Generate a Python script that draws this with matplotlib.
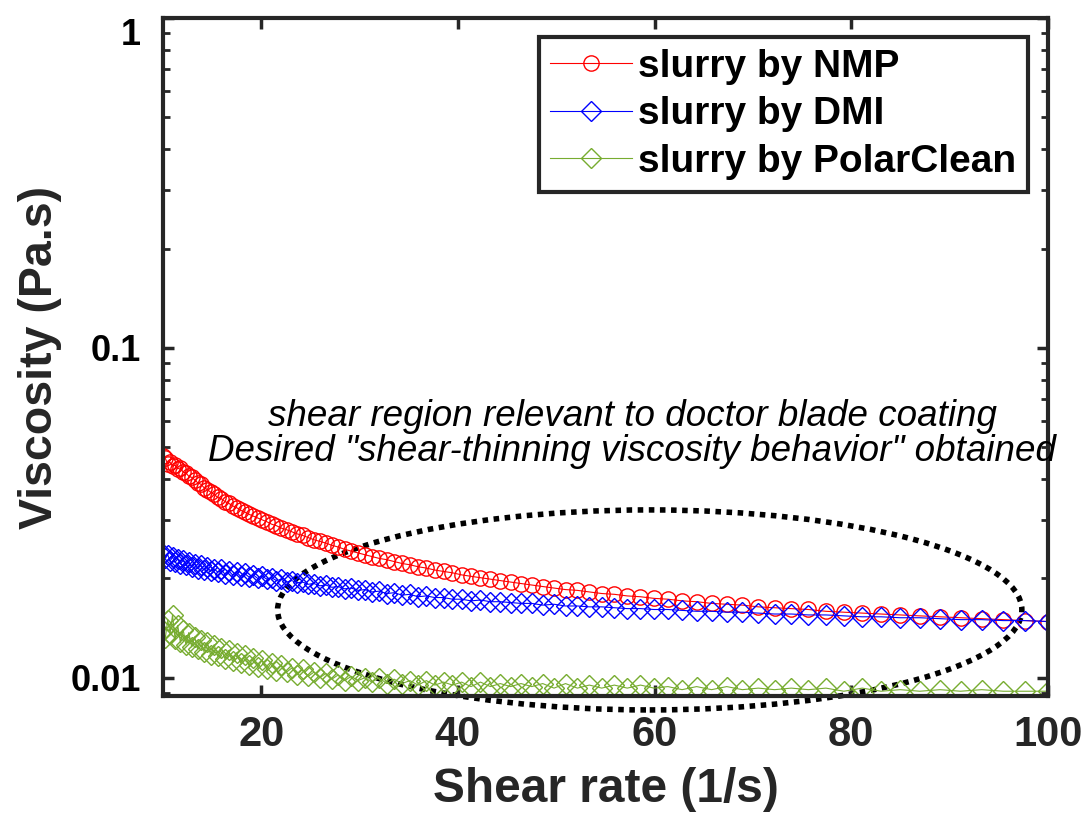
import numpy as np
import matplotlib
matplotlib.use('Agg')
import matplotlib.pyplot as plt
from matplotlib.patches import Ellipse

plt.rcParams['font.family'] = ['Liberation Sans', 'DejaVu Sans']

# shear rate (1/s)
shear_rate = [10.00, 10.24, 10.48, 10.72, 10.97, 11.23, 11.50, 11.77, 12.05, 12.33,
              12.62, 12.92, 13.22, 13.53, 13.85, 14.17, 14.51, 14.85, 15.20, 15.56,
              15.92, 16.30, 16.68, 17.07, 17.48, 17.89, 18.31, 18.74, 19.18, 19.63,
              20.09, 20.57, 21.05, 21.54, 22.05, 22.57, 23.10, 23.64, 24.20, 24.77,
              25.35, 25.95, 26.56, 27.18, 27.82, 28.48, 29.15, 29.83, 30.53, 31.25,
              31.99, 32.74, 33.51, 34.30, 35.11, 35.94, 36.78, 37.65, 38.53, 39.44,
              40.37, 41.32, 42.29, 43.29, 44.30, 45.35, 46.41, 47.50, 48.62, 49.77,
              50.94, 52.14, 53.36, 54.62, 55.90, 57.22, 58.56, 59.94, 61.35, 62.79,
              64.27, 65.79, 67.33, 68.92, 70.54, 72.20, 73.90, 75.64, 77.42, 79.24,
              81.11, 83.02, 84.97, 86.97, 89.02, 91.11, 93.26, 95.45, 97.70, 100.00]

# viscosity (Pa.s)
visc_nmp = [0.0470, 0.0462, 0.0445, 0.0450, 0.0438, 0.0441, 0.0430, 0.0433, 0.0420, 0.0418,
            0.0408, 0.0405, 0.0398, 0.0390, 0.0386, 0.0377, 0.0372, 0.0365, 0.0360, 0.0352,
            0.0349, 0.0342, 0.0338, 0.0332, 0.0328, 0.0322, 0.0318, 0.0313, 0.0309, 0.0305,
            0.0301, 0.0297, 0.0292, 0.0289, 0.0284, 0.0281, 0.0277, 0.0273, 0.0270, 0.0266,
            0.0262, 0.0259, 0.0256, 0.0252, 0.0249, 0.0245, 0.0242, 0.0239, 0.0236, 0.0233,
            0.0230, 0.0228, 0.0225, 0.0222, 0.0220, 0.0217, 0.0215, 0.0212, 0.0210, 0.0208,
            0.0205, 0.0203, 0.0201, 0.0199, 0.0197, 0.0195, 0.0193, 0.0191, 0.0189, 0.0187,
            0.0185, 0.0184, 0.0182, 0.0180, 0.0179, 0.0177, 0.0176, 0.0174, 0.0173, 0.0171,
            0.0170, 0.0168, 0.0167, 0.0166, 0.0164, 0.0163, 0.0162, 0.0161, 0.0159, 0.0158,
            0.0157, 0.0156, 0.0155, 0.0154, 0.0153, 0.0152, 0.0151, 0.0150, 0.0149, 0.0148]

visc_dmi = [0.0238, 0.0230, 0.0236, 0.0226, 0.0232, 0.0224, 0.0229, 0.0221, 0.0227, 0.0219,
            0.0224, 0.0216, 0.0221, 0.0214, 0.0219, 0.0212, 0.0217, 0.0210, 0.0214, 0.0209,
            0.0213, 0.0206, 0.0211, 0.0205, 0.0209, 0.0203, 0.0207, 0.0202, 0.0205, 0.0200,
            0.0203, 0.0199, 0.0201, 0.0197, 0.0199, 0.0195, 0.0197, 0.0194, 0.0195, 0.0192,
            0.0193, 0.0190, 0.0191, 0.0188, 0.0189, 0.0186, 0.0187, 0.0184, 0.0185, 0.0182,
            0.0183, 0.0180, 0.0181, 0.0178, 0.0179, 0.0176, 0.0177, 0.0175, 0.0175, 0.0173,
            0.0173, 0.0171, 0.0172, 0.0170, 0.0170, 0.0169, 0.0168, 0.0168, 0.0166, 0.0167,
            0.0165, 0.0165, 0.0164, 0.0164, 0.0163, 0.0162, 0.0162, 0.0161, 0.0161, 0.0160,
            0.0159, 0.0159, 0.0158, 0.0158, 0.0157, 0.0156, 0.0156, 0.0155, 0.0155, 0.0154,
            0.0153, 0.0153, 0.0152, 0.0152, 0.0151, 0.0150, 0.0150, 0.0149, 0.0149, 0.0148]

visc_polarclean = [0.0140, 0.0132, 0.0150, 0.0136, 0.0155, 0.0131, 0.0144, 0.0128, 0.0140, 0.0126,
                   0.0137, 0.0124, 0.0133, 0.0122, 0.0130, 0.0120, 0.0128, 0.0117, 0.0126, 0.0116,
                   0.0123, 0.0114, 0.0121, 0.0112, 0.0119, 0.0111, 0.0117, 0.0109, 0.0115, 0.0108,
                   0.0113, 0.0106, 0.0111, 0.0105, 0.0109, 0.0104, 0.0107, 0.0102, 0.0106, 0.0101,
                   0.0104, 0.0100, 0.0103, 0.0099, 0.0102, 0.0098, 0.0101, 0.0098, 0.0100, 0.0097,
                   0.0100, 0.0096, 0.0099, 0.0096, 0.0098, 0.0095, 0.0098, 0.0095, 0.0097, 0.0095,
                   0.0097, 0.0094, 0.0097, 0.0094, 0.0096, 0.0094, 0.0096, 0.0094, 0.0096, 0.0093,
                   0.0096, 0.0093, 0.0095, 0.0093, 0.0095, 0.0093, 0.0095, 0.0093, 0.0094, 0.0092,
                   0.0094, 0.0092, 0.0094, 0.0092, 0.0093, 0.0092, 0.0093, 0.0092, 0.0093, 0.0091,
                   0.0093, 0.0091, 0.0092, 0.0091, 0.0092, 0.0091, 0.0092, 0.0091, 0.0091, 0.0091]

labels = ['slurry by NMP', 'slurry by DMI', 'slurry by PolarClean']
xticks = [20, 40, 60, 80, 100]
yticks = [0.01, 0.1, 1]
ytick_labels = ['0.01', '0.1', '1']

axis_grey = '#262626'

fig = plt.figure(figsize=(10.88, 8.18), dpi=100)
ax = fig.add_axes([0.1498, 0.1491, 0.8134, 0.8289])

ax.plot(shear_rate, visc_nmp, '-o', color='#ff0000', lw=0.8, ms=11, mfc='none', mew=1.0, label=labels[0])
ax.plot(shear_rate, visc_dmi, '-D', color='#0000ff', lw=0.8, ms=10, mfc='none', mew=1.0, label=labels[1])
ax.plot(shear_rate, visc_polarclean, '-D', color='#77ac30', lw=0.8, ms=10, mfc='none', mew=1.0, label=labels[2])

ax.set_yscale('log')
ax.set_xlim(10, 100)
ax.set_ylim(0.0088, 1)
ax.set_xticks(xticks)
ax.set_yticks(yticks)
ax.set_yticklabels(ytick_labels)

for s in ax.spines.values():
    s.set_linewidth(3)
    s.set_color(axis_grey)

ax.tick_params(which='major', direction='in', length=8, width=2.5, top=True, right=True, color=axis_grey)
ax.tick_params(which='minor', direction='in', length=5, width=2, top=True, right=True, color=axis_grey)
ax.tick_params(axis='x', labelsize=30, pad=14, labelcolor=axis_grey)
ax.tick_params(axis='y', labelsize=26, pad=16, labelcolor='black')
for t in ax.get_xticklabels() + ax.get_yticklabels():
    t.set_fontweight('bold')
ax.get_yticklabels()[-1].set_va('top')

ax.set_xlabel('Shear rate (1/s)', fontsize=34.5, fontweight='bold', color=axis_grey)
ax.xaxis.set_label_coords(0.5, -0.104)
ax.set_ylabel('Viscosity (Pa.s)', fontsize=33.5, fontweight='bold', color=axis_grey)
ax.yaxis.set_label_coords(-0.114, 0.5)

leg = ax.legend(loc='upper right', bbox_to_anchor=(0.977, 0.972), borderaxespad=0,
                prop={'size': 28, 'weight': 'bold'}, handlelength=2.1, handletextpad=0.15,
                labelspacing=0.3, borderpad=0.3, fancybox=False, framealpha=1)
leg.get_frame().set_edgecolor(axis_grey)
leg.get_frame().set_linewidth(3)

ax.text(0.53, 0.387, 'shear region relevant to doctor blade coating\n'
        'Desired "shear-thinning viscosity behavior" obtained',
        transform=ax.transAxes, ha='center', va='center', multialignment='center',
        fontsize=26.5, fontstyle='italic', linespacing=1.0)

ell = Ellipse((0.550, 0.127), 0.841, 0.295, transform=ax.transAxes, fill=False,
              edgecolor='black', lw=4, linestyle=(0, (1, 1)), clip_on=False)
ax.add_patch(ell)

fig.savefig('out.png', dpi=100)
